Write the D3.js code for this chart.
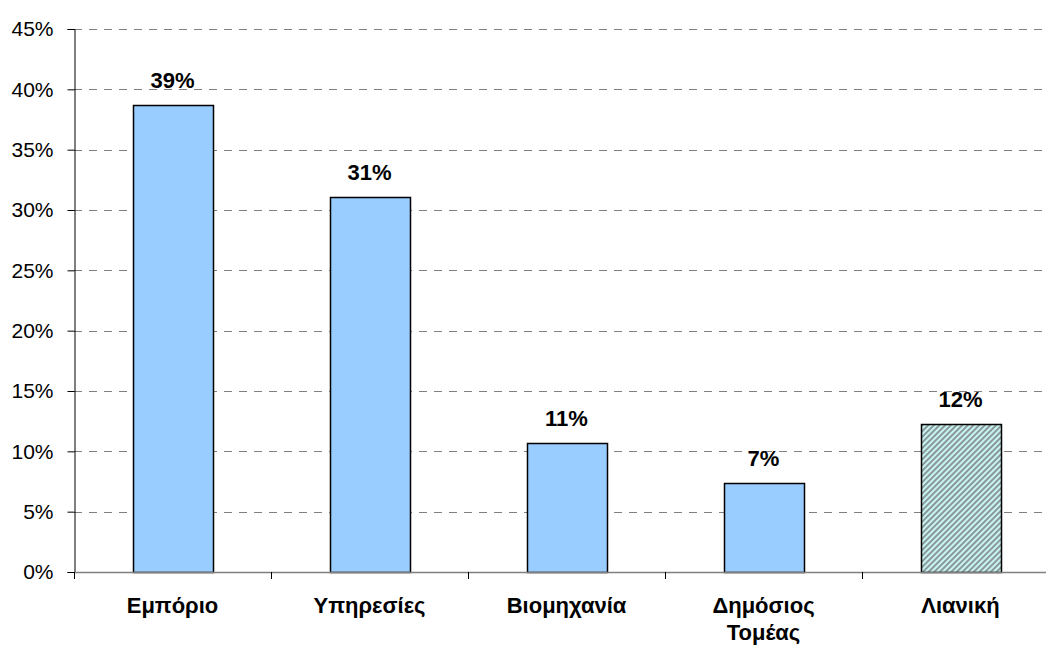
<!DOCTYPE html>
<meta charset="utf-8">
<style>
body { margin: 0; padding: 0; background: #fff; overflow: hidden; }
svg { display: block; font-family: "Liberation Sans", Arial, sans-serif; }
.grid line { stroke: #808080; stroke-dasharray: 8,7; stroke-width: 1; }
.cat { font-size: 22px; font-weight: bold; }
.val { font-size: 22px; font-weight: bold; }
</style>
<body>
<div id="chart"></div>
<script src="https://cdn.jsdelivr.net/npm/d3@7"></script>
<script>
var categories = ["Εμπόριο", "Υπηρεσίες", "Βιομηχανία", "Δημόσιος Τομέας", "Λιανική"];
var values = [38.7, 31.1, 10.7, 7.4, 12.3];
var labels = ["39%", "31%", "11%", "7%", "12%"];
var hatched = [false, false, false, false, true];
var yTicks = [0, 5, 10, 15, 20, 25, 30, 35, 40, 45];

var width = 1046, height = 645;
var plotLeft = 74, plotRight = 1059, plotTop = 29, plotBottom = 572;

var svg = d3.select("#chart").append("svg")
    .attr("width", width)
    .attr("height", height);

// hatch pattern for the last bar
var pat = svg.append("defs").append("pattern")
    .attr("id", "hatch")
    .attr("patternUnits", "userSpaceOnUse")
    .attr("width", 4)
    .attr("height", 4)
    .attr("patternTransform", "rotate(45)");
pat.append("rect").attr("width", 4).attr("height", 4).attr("fill", "#c8f4f4");
pat.append("rect").attr("width", 2).attr("height", 4).attr("fill", "#8a9898");

var x = d3.scaleBand().domain(categories).range([plotLeft, plotRight]).paddingInner(0.594).paddingOuter(0.297);
var band = d3.scaleBand().domain(categories).range([plotLeft, plotRight]);
var y = d3.scaleLinear().domain([0, 45]).range([plotBottom, plotTop]);

// gridlines
svg.append("g").attr("class", "grid")
  .selectAll("line")
  .data(yTicks.filter(function(d) { return d > 0; }))
  .enter().append("line")
    .attr("x1", plotLeft).attr("x2", width)
    .attr("y1", function(d) { return Math.round(y(d)) + 0.5; })
    .attr("y2", function(d) { return Math.round(y(d)) + 0.5; });

// y axis
var yAxis = svg.append("g")
    .attr("transform", "translate(" + (plotLeft + 0.5) + ",0)")
    .call(d3.axisLeft(y).tickValues(yTicks).tickFormat(function(d) { return d + "%"; }).tickSize(7).tickPadding(14));
yAxis.select(".domain").attr("stroke", "#000");
yAxis.selectAll(".tick line").attr("stroke", "#000");
yAxis.selectAll("text")
    .attr("font-family", "Liberation Sans, Arial, sans-serif")
    .attr("font-size", 21)
    .attr("fill", "#000");

// bars
svg.append("g").selectAll("rect")
  .data(categories)
  .enter().append("rect")
    .attr("x", function(d) { return Math.round(x(d)) + 0.5; })
    .attr("y", function(d, i) { return Math.round(y(values[i])) + 0.5; })
    .attr("width", Math.round(x.bandwidth()))
    .attr("height", function(d, i) { return Math.round(plotBottom - y(values[i])); })
    .attr("fill", function(d, i) { return hatched[i] ? "url(#hatch)" : "#99ccff"; })
    .attr("stroke", "#000")
    .attr("stroke-width", 1.5);

// x axis line and ticks
svg.append("line")
    .attr("x1", plotLeft).attr("x2", width)
    .attr("y1", plotBottom + 0.5).attr("y2", plotBottom + 0.5)
    .attr("stroke", "#808080").attr("stroke-width", 1.5);
svg.append("g").selectAll("line")
  .data(categories)
  .enter().append("line")
    .attr("x1", function(d) { return Math.round(band(d)) + 0.5; })
    .attr("x2", function(d) { return Math.round(band(d)) + 0.5; })
    .attr("y1", plotBottom).attr("y2", plotBottom + 7)
    .attr("stroke", "#000");

// value labels
svg.append("g").selectAll("text")
  .data(categories)
  .enter().append("text")
    .attr("class", "val")
    .attr("x", function(d) { return x(d) + x.bandwidth() / 2; })
    .attr("y", function(d, i) { return y(values[i]) - 17; })
    .attr("text-anchor", "middle")
    .text(function(d, i) { return labels[i]; });

// category labels
var cat = svg.append("g").selectAll("text")
  .data(categories)
  .enter().append("text")
    .attr("class", "cat")
    .attr("text-anchor", "middle")
    .attr("x", function(d) { return x(d) + x.bandwidth() / 2; })
    .attr("y", 613);
cat.each(function(d) {
  var words = d === "Δημόσιος Τομέας" ? ["Δημόσιος", "Τομέας"] : [d];
  var t = d3.select(this);
  words.forEach(function(w, i) {
    t.append("tspan")
      .attr("x", t.attr("x"))
      .attr("dy", i ? 27 : 0)
      .text(w);
  });
});
</script>
</body>
